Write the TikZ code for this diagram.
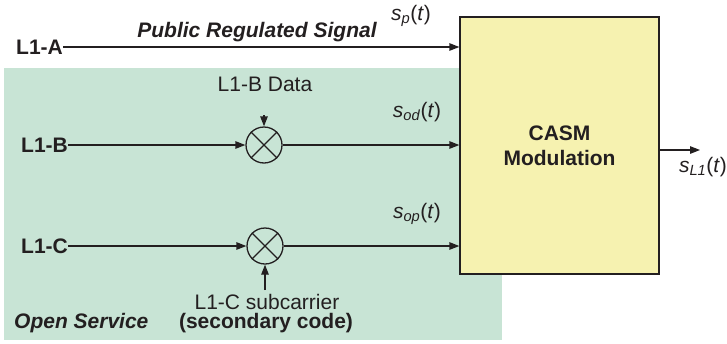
\documentclass[tikz,border=0pt]{standalone}
\usepackage{fontspec}
\setmainfont{Liberation Sans}
\usetikzlibrary{arrows.meta}
\definecolor{osgreen}{HTML}{C8E4D5}
\definecolor{casmyel}{HTML}{F6F2B0}
\definecolor{ink}{HTML}{231F20}
\begin{document}
\begin{tikzpicture}[x=1pt,y=-1pt,
  font=\fontsize{21}{25}\selectfont,
  every node/.style={text=ink},
  sig/.style={draw=ink, line width=1.3pt, -{Triangle[length=10pt,width=7.5pt]}},
  mixer/.style={circle, draw=ink, line width=1.3pt, minimum size=36pt, inner sep=0pt},
  lbl/.style={inner sep=0pt, font=\fontsize{21}{25}\selectfont\bfseries},
  txt/.style={inner sep=0pt},
  blk/.style={draw=ink, line width=1.3pt, fill=casmyel, minimum width=199pt, minimum height=257pt, inner sep=0pt, align=center, font=\fontsize{21}{25}\selectfont\bfseries}]
\useasboundingbox (0,0) rectangle (727,343);
\fill[osgreen] (4,68) rectangle (502,340);
\node[blk] (casm) at (559.5,145.5) {CASM\\Modulation};
% inputs
\node[lbl, anchor=west] (a) at (16,47) {L1-A};
\node[lbl, anchor=west] (b) at (21,145) {L1-B};
\node[lbl, anchor=west] (c) at (21,246) {L1-C};
% mixers
\node[mixer] (m1) at (264,145) {};
\node[mixer] (m2) at (265,246) {};
\draw[ink, line width=1.3pt] (m1.north west) -- (m1.south east) (m1.north east) -- (m1.south west);
\draw[ink, line width=1.3pt] (m2.north west) -- (m2.south east) (m2.north east) -- (m2.south west);
% connectors
\draw[sig] (a.east) -- (a.east -| casm.west);
\draw[sig] (b.east) -- (m1.west);
\draw[sig] (m1.east) -- (m1.east -| casm.west);
\draw[sig] (c.east) -- (m2.west);
\draw[sig] (m2.east) -- (m2.east -| casm.west);
\node[txt] (bd) at (265,84) {L1-B Data};
\coordinate (bdtail) at (264,115);
\draw[sig] (bdtail) -- (m1.north);
\node[txt] (sc) at (267,302) {L1-C subcarrier};
\node[txt, font=\fontsize{21}{25}\selectfont\bfseries] (sec) at (266,323) {(secondary code)};
\coordinate (sctail) at (265,290);
\draw[sig] (sctail) -- (m2.south);
\coordinate (out) at (700,150);
\draw[sig] (casm.east |- out) -- (out);
% labels
\node[txt, font=\fontsize{21}{25}\selectfont\bfseries\itshape] (prs) at (257,32) {Public Regulated Signal};
\node[txt, font=\fontsize{21}{25}\selectfont\bfseries\itshape, anchor=west] (os) at (14,323) {Open Service};
\node[txt] (sp) at (411,16) {\textit{s}\textsubscript{\textit{p}}(\textit{t})};
\node[txt] (sod) at (417,112) {\textit{s}\textsubscript{\textit{od}}(\textit{t})};
\node[txt] (sop) at (417,214) {\textit{s}\textsubscript{\textit{op}}(\textit{t})};
\node[txt] (sl1) at (703,167) {\textit{s}\textsubscript{\textit{L1}}(\textit{t})};
\end{tikzpicture}
\end{document}
